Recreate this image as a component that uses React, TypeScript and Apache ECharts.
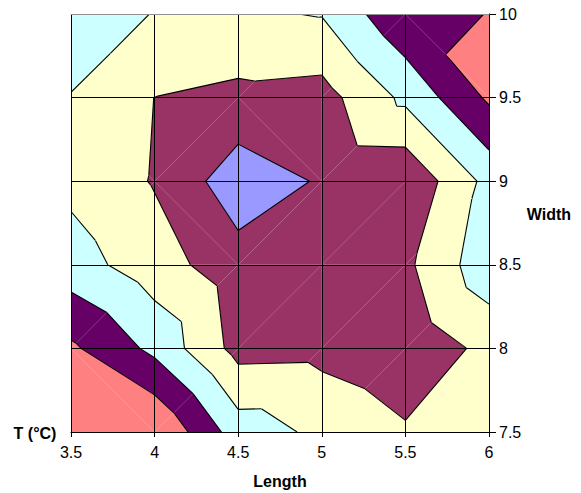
import React, { useEffect, useRef } from "react";
import * as echarts from "echarts";

// Axis ticks
const lengthTicks = [3.5, 4, 4.5, 5, 5.5, 6];
const widthTicks = [7.5, 8, 8.5, 9, 9.5, 10];

// Surface values at the grid nodes; one row per Width (7.5 -> 10), columns per Length (3.5 -> 6)
const zWidth75 = [6.5, 6.0, 3.5, 2.79, 2.12, 2.5];
const zWidth80 = [5.17, 3.75, 1.65, 1.7, 1.26, 2.27];
const zWidth85 = [3.44, 2.44, 1.41, 1.3, 1.79, 3.65];
const zWidth90 = [2.75, 1.93, 0.41, 1.1, 1.16, 3.31];
const zWidth95 = [2.94, 1.99, 1.74, 1.61, 3.22, 5.16];
const zWidth100 = [3.9, 2.94, 2.87, 3.05, 4.85, 5.01];

// Band boundaries and band colours (lowest band first)
const bandLevels = [1, 2, 3, 4, 5];
const bandColors = ["#9999FF", "#993366", "#FFFFCC", "#CCFFFF", "#660066", "#FF8080"];

// Diagonal used to split each cell into two triangles (rows by Width, cols by Length)
const cellSplits = ["\\////", "/////", "/\\///", "\\/\\/\\", "\\///\\"];

type P = [number, number, number];

const zRows = [zWidth75, zWidth80, zWidth85, zWidth90, zWidth95, zWidth100];

function buildTriangles(): P[][] {
  const tris: P[][] = [];
  for (let j = 0; j < widthTicks.length - 1; j++) {
    for (let i = 0; i < lengthTicks.length - 1; i++) {
      const x0 = lengthTicks[i], x1 = lengthTicks[i + 1];
      const y0 = widthTicks[j], y1 = widthTicks[j + 1];
      const a: P = [x0, y0, zRows[j][i]];
      const b: P = [x1, y0, zRows[j][i + 1]];
      const c: P = [x0, y1, zRows[j + 1][i]];
      const d: P = [x1, y1, zRows[j + 1][i + 1]];
      if (cellSplits[j][i] === "/") {
        tris.push([a, b, d]);
        tris.push([a, d, c]);
      } else {
        tris.push([a, b, c]);
        tris.push([b, d, c]);
      }
    }
  }
  return tris;
}

function clipPoly(poly: P[], level: number, keepAbove: boolean): P[] {
  const out: P[] = [];
  for (let k = 0; k < poly.length; k++) {
    const a = poly[k];
    const b = poly[(k + 1) % poly.length];
    const ina = keepAbove ? a[2] >= level : a[2] <= level;
    const inb = keepAbove ? b[2] >= level : b[2] <= level;
    if (ina) out.push(a);
    if (ina !== inb) {
      const t = (level - a[2]) / (b[2] - a[2]);
      out.push([a[0] + t * (b[0] - a[0]), a[1] + t * (b[1] - a[1]), level]);
    }
  }
  return out;
}

const FONT = "'Liberation Sans', Arial, sans-serif";

export default function App() {
  const ref = useRef<HTMLDivElement>(null);
  useEffect(() => {
    if (!ref.current) return;
    const chart = echarts.init(ref.current, undefined, { renderer: "svg" });
    const triangles = buildTriangles();

    const renderItem = (params: any, api: any) => {
      const tri = triangles[params.dataIndex];
      const children: any[] = [];
      for (let k = 0; k < bandColors.length; k++) {
        let poly: P[] = tri;
        if (k > 0) poly = clipPoly(poly, bandLevels[k - 1], true);
        if (k < bandLevels.length) poly = clipPoly(poly, bandLevels[k], false);
        if (poly.length >= 3) {
          children.push({
            type: "polygon",
            shape: { points: poly.map((p) => api.coord([p[0], p[1]])) },
            style: { fill: bandColors[k] },
            silent: true,
          });
        }
      }
      for (const L of bandLevels) {
        const pts: number[][] = [];
        for (let e = 0; e < 3; e++) {
          const a = tri[e];
          const b = tri[(e + 1) % 3];
          if ((a[2] - L) * (b[2] - L) < 0) {
            const t = (L - a[2]) / (b[2] - a[2]);
            pts.push(api.coord([a[0] + t * (b[0] - a[0]), a[1] + t * (b[1] - a[1])]));
          }
        }
        if (pts.length === 2) {
          children.push({
            type: "line",
            shape: { x1: pts[0][0], y1: pts[0][1], x2: pts[1][0], y2: pts[1][1] },
            style: { stroke: "#000", lineWidth: 1.1 },
            silent: true,
          });
        }
      }
      return { type: "group", children };
    };

    const option: any = {
      animation: false,
      backgroundColor: "#ffffff",
      grid: { left: 71, top: 14, width: 418, height: 418, containLabel: false },
      xAxis: [
        {
          type: "value",
          min: 3.5,
          max: 6,
          interval: 0.5,
          position: "bottom",
          z: 10,
          axisLine: { show: true, lineStyle: { color: "#000", width: 1 } },
          axisTick: { show: true, length: 5, lineStyle: { color: "#000" } },
          axisLabel: { color: "#000", fontFamily: FONT, fontSize: 16, margin: 12 },
          splitLine: { show: true, lineStyle: { color: "#000", width: 1 } },
        },
        {
          type: "value",
          min: 3.5,
          max: 6,
          interval: 0.5,
          position: "top",
          z: 11,
          axisLine: { show: true, lineStyle: { color: "#909090", width: 1 } },
          axisTick: { show: false },
          axisLabel: { show: false },
          splitLine: { show: false },
        },
      ],
      yAxis: {
        type: "value",
        min: 7.5,
        max: 10,
        interval: 0.5,
        position: "right",
        z: 10,
        axisLine: { show: true, lineStyle: { color: "#000", width: 1 } },
        axisTick: { show: true, length: 7, lineStyle: { color: "#000" } },
        axisLabel: { color: "#000", fontFamily: FONT, fontSize: 16, margin: 10 },
        splitLine: { show: true, lineStyle: { color: "#000", width: 1 } },
      },
      graphic: [
        {
          type: "text",
          x: 35,
          y: 433,
          style: { text: "T (°C)", font: `bold 16px ${FONT}`, fill: "#000", align: "center", verticalAlign: "middle" },
        },
        {
          type: "text",
          x: 280,
          y: 481,
          style: { text: "Length", font: `bold 16px ${FONT}`, fill: "#000", align: "center", verticalAlign: "middle" },
        },
        {
          type: "text",
          x: 549,
          y: 214,
          style: { text: "Width", font: `bold 16px ${FONT}`, fill: "#000", align: "center", verticalAlign: "middle" },
        },
      ],
      series: [
        {
          type: "custom",
          xAxisIndex: 0,
          yAxisIndex: 0,
          clip: true,
          silent: true,
          renderItem,
          data: triangles.map((t) => [
            (t[0][0] + t[1][0] + t[2][0]) / 3,
            (t[0][1] + t[1][1] + t[2][1]) / 3,
          ]),
        },
      ],
    };
    chart.setOption(option);
    return () => chart.dispose();
  }, []);

  return (
    <div
      ref={ref}
      style={{ position: "fixed", left: 0, top: 0, width: 581, height: 493, background: "#fff" }}
    />
  );
}
